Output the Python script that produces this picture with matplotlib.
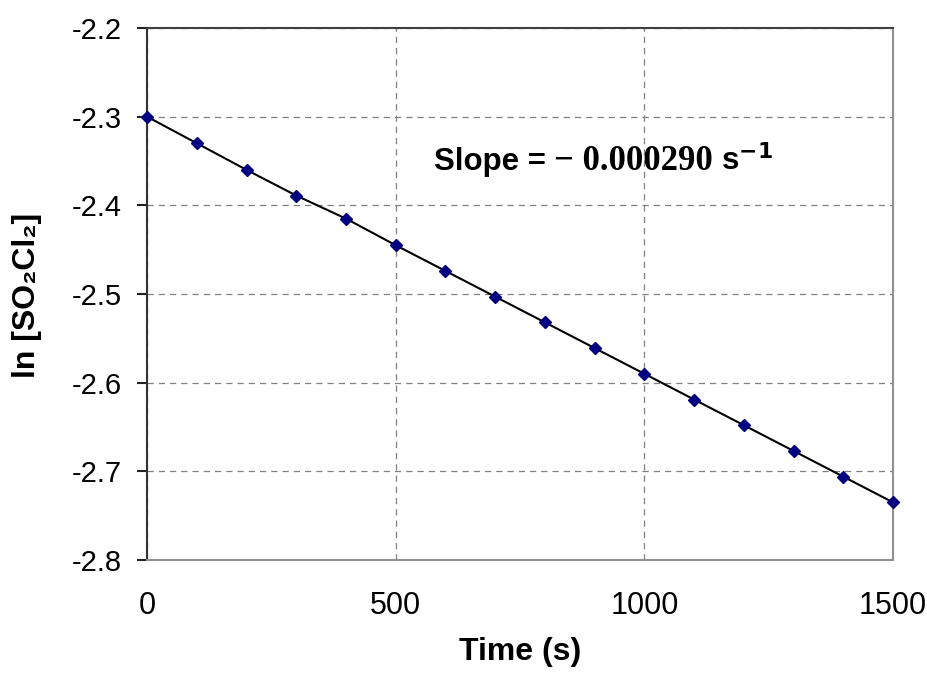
import matplotlib
matplotlib.use("Agg")
import matplotlib.pyplot as plt

# ----- DATA -----
time_s = [0, 100, 200, 300, 400, 500, 600, 700, 800, 900, 1000, 1100, 1200, 1300, 1400, 1500]
ln_conc = [-2.300, -2.330, -2.360, -2.389, -2.415, -2.445, -2.474, -2.503,
           -2.532, -2.561, -2.590, -2.619, -2.648, -2.677, -2.706, -2.735]
x_ticks = [0, 500, 1000, 1500]
y_ticks = [-2.8, -2.7, -2.6, -2.5, -2.4, -2.3, -2.2]

plt.rcParams["font.family"] = ["Liberation Sans", "DejaVu Sans"]

fig = plt.figure(figsize=(9.28, 6.8), dpi=100)
ax = fig.add_axes([0.1585, 0.1765, 0.9623 - 0.1585, 0.9588 - 0.1765])

ax.plot(time_s, ln_conc, color="black", linewidth=1.5, zorder=3)
ax.plot(time_s, ln_conc, linestyle="none", marker="D", markersize=6,
        color="#000080", zorder=4, clip_on=False)

ax.set_xlim(0, 1500)
ax.set_ylim(-2.8, -2.2)
ax.set_xticks(x_ticks)
ax.set_yticks(y_ticks)
ax.set_yticklabels([f"{v:.1f}" for v in y_ticks])

ax.grid(True, color="#808080", linestyle=(0, (5, 4)), linewidth=0.9)
ax.set_axisbelow(True)

ax.spines["left"].set_color("#333333")
ax.spines["top"].set_color("#404040")
ax.spines["bottom"].set_color("#909090")
ax.spines["right"].set_color("#909090")
for s in ax.spines.values():
    s.set_linewidth(1.5)

ax.tick_params(axis="x", length=0, labelsize=22, pad=22)
ax.tick_params(axis="y", direction="out", length=7.5, width=1.5,
               color="#222222", labelsize=21, pad=11)

# axis labels
fig.text(520 / 928, 1 - 652 / 680, "Time (s)", fontsize=23, fontweight="bold",
         ha="center", va="center")
fig.text(27 / 928, 1 - 295 / 680, "ln [SO\u2082Cl\u2082]", fontsize=23,
         fontweight="bold", ha="center", va="center", rotation=90)

# slope annotation, built from pieces in different fonts
base_y = 1 - 170 / 680
t1 = fig.text(434 / 928, base_y, "Slope = ", fontsize=22.5,
              fontweight="bold", va="baseline")
fig.canvas.draw()
r = fig.canvas.get_renderer()
bb = t1.get_window_extent(r)
t2 = fig.text(bb.x1 / 928, base_y, "\u2212 0.000290", fontsize=25,
              family=["Liberation Serif", "DejaVu Serif"], fontweight="bold",
              va="baseline")
fig.canvas.draw()
bb2 = t2.get_window_extent(r)
fig.text(bb2.x1 / 928 + 0.008, base_y, r"s$^{\mathbf{-1}}$", fontsize=22.5,
         fontweight="bold", va="baseline")

fig.savefig("out.png", dpi=100)
